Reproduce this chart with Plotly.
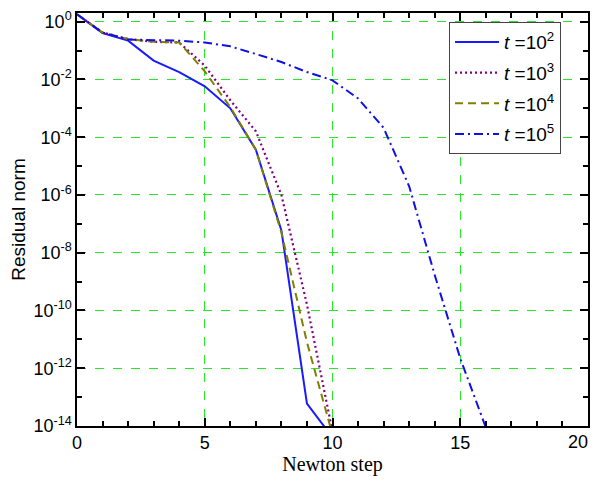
import plotly.graph_objects as go

steps_1e2 = [0, 1, 2, 3, 4, 5, 6, 7, 8, 9, 10]
res_1e2 = [1.8, 0.40, 0.22, 0.045, 0.018, 5.8e-3, 1.0e-3, 3.7e-5, 5.9e-8, 6.0e-14, 4.0e-15]

steps_1e3 = [0, 1, 2, 3, 4, 5, 6, 7, 8, 9, 10]
res_1e3 = [1.8, 0.42, 0.25, 0.20, 0.19, 0.030, 1.9e-3, 1.6e-4, 1.0e-6, 1.6e-10, 6.3e-15]

steps_1e4 = [0, 1, 2, 3, 4, 5, 6, 7, 8, 9, 10]
res_1e4 = [1.8, 0.42, 0.25, 0.20, 0.19, 0.019, 1.1e-3, 3.7e-5, 5.0e-8, 8.0e-12, 5.0e-15]

steps_1e5 = [0, 1, 2, 3, 4, 5, 6, 7, 8, 9, 10, 11, 12, 13, 14, 15, 16]
res_1e5 = [1.8, 0.42, 0.24, 0.23, 0.22, 0.19, 0.14, 0.076, 0.040, 0.018, 9.3e-3,
           2.2e-3, 2.1e-4, 2.0e-6, 1.7e-9, 2.2e-12, 8.9e-15]

series_names = ["<i>t</i> =10<sup>2</sup>", "<i>t</i> =10<sup>3</sup>",
                "<i>t</i> =10<sup>4</sup>", "<i>t</i> =10<sup>5</sup>"]

y_tick_vals = [1, 1e-2, 1e-4, 1e-6, 1e-8, 1e-10, 1e-12, 1e-14]
y_tick_text = ["10<sup>0</sup>", "10<sup>-2</sup>", "10<sup>-4</sup>", "10<sup>-6</sup>",
               "10<sup>-8</sup>", "10<sup>-10</sup>", "10<sup>-12</sup>", "10<sup>-14</sup>"]
y_minor_vals = [1e-1, 1e-3, 1e-5, 1e-7, 1e-9, 1e-11, 1e-13]
x_tick_vals = [0, 5, 10, 15, 20]
x_tick_text = ["0", "5", "10", "15", ""]
x_last_label = "20"

fig = go.Figure()
styles = [
    dict(color="#1a1aff", width=2, dash="solid"),
    dict(color="#800080", width=2.2, dash="2px,3px"),
    dict(color="#808000", width=2, dash="8px,5px"),
    dict(color="#1010e0", width=2, dash="9px,4px,2px,4px"),
]
data = [(steps_1e2, res_1e2), (steps_1e3, res_1e3), (steps_1e4, res_1e4), (steps_1e5, res_1e5)]
for i, ((xs, ys), name, st) in enumerate(zip(data, series_names, styles)):
    fig.add_trace(go.Scatter(x=xs, y=ys, mode="lines", name=name, line=st, legendgroup=f"g{i}"))

grid_color = "rgb(40,230,40)"
axis_font = dict(family="Liberation Sans, Arial", size=18, color="black")

# last x tick label, kept inside the page edge
fig.add_annotation(x=x_tick_vals[-1], xref="x", y=0, yref="paper", text=x_last_label,
                   showarrow=False, xanchor="right", yanchor="top", yshift=-4, xshift=2,
                   font=axis_font)

fig.update_layout(
    template="none",
    width=582, height=468,
    margin=dict(l=69, r=2, t=5, b=50, autoexpand=False),
    paper_bgcolor="white", plot_bgcolor="white",
    showlegend=True,
    legend=dict(
        x=0.728, y=0.978, xanchor="left", yanchor="top",
        bgcolor="white", bordercolor="#444444", borderwidth=1,
        font=dict(family="Liberation Sans, Arial", size=19, color="black"),
        itemwidth=44, tracegroupgap=3, traceorder="grouped",
    ),
    xaxis=dict(
        range=[0, 20], tickvals=x_tick_vals, ticktext=x_tick_text, ticks="inside", ticklen=8, tickwidth=1.5,
        tickcolor="black", showline=True, linecolor="black", linewidth=1.5, mirror="ticks",
        showgrid=True, gridcolor=grid_color, griddash="dash", gridwidth=1.4,
        zeroline=False, tickfont=axis_font, automargin=False, ticklabeloverflow="allow",
        minor=dict(dtick=1, ticks="inside", ticklen=5, tickcolor="black", tickwidth=1.5, showgrid=False),
        title=dict(text="Newton step", font=dict(family="Liberation Serif, Times New Roman", size=20, color="black"), standoff=4),
    ),
    yaxis=dict(
        type="log", range=[-14, 0.3], tickvals=y_tick_vals, ticktext=y_tick_text,
        ticks="inside", ticklen=8, tickwidth=1.5, tickcolor="black",
        showline=True, linecolor="black", linewidth=1.5, mirror="ticks",
        showgrid=True, gridcolor=grid_color, griddash="dash", gridwidth=1.4,
        zeroline=False, tickfont=axis_font, automargin=False, ticklabeloverflow="allow",
        minor=dict(tickvals=y_minor_vals, ticks="inside", ticklen=5, tickcolor="black", tickwidth=1.5, showgrid=False),
        title=dict(text="Residual norm", font=dict(family="Liberation Sans, Arial", size=19, color="black"), standoff=6),
    ),
)

fig.write_html("out.html")
